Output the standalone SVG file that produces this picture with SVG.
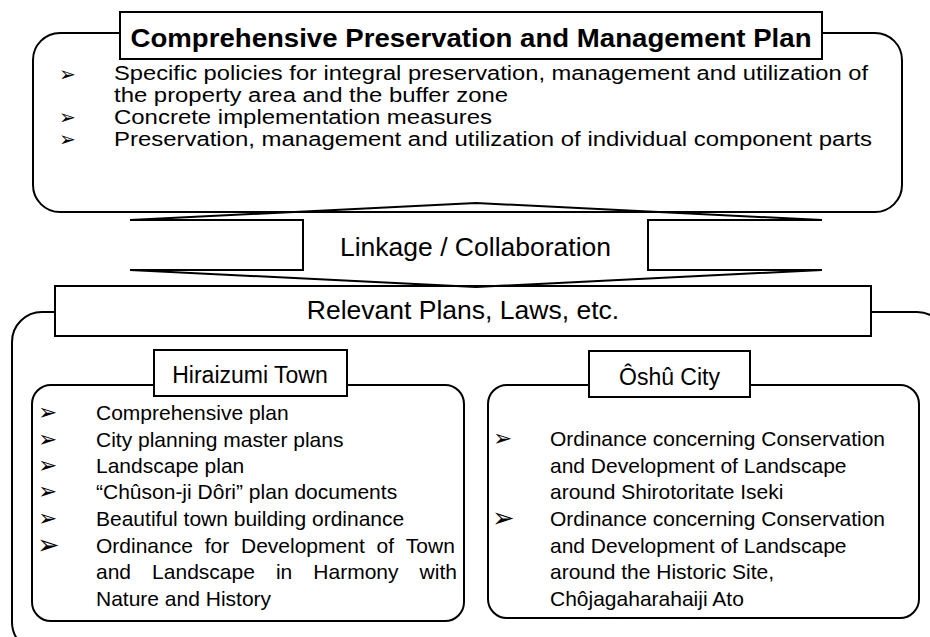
<svg xmlns="http://www.w3.org/2000/svg" width="930" height="637" viewBox="0 0 930 637">
<style>
.box{fill:#fff;stroke:#000;stroke-width:2}
.nofill{fill:none;stroke:#000;stroke-width:2}
.t{font-family:"Liberation Sans",Arial,sans-serif;fill:#000}
.b{font-family:"DejaVu Sans","Liberation Sans",sans-serif;fill:#000;font-size:23px}
.b1{font-family:"DejaVu Sans","Liberation Sans",sans-serif;fill:#000;font-size:20px}
.b2{font-family:"DejaVu Sans","Liberation Sans",sans-serif;fill:#000;font-size:27px}
</style>
<rect width="930" height="637" fill="#fff"/>
<g id="plan">
<rect class="box" x="33" y="33" width="869" height="179" rx="27"/>
<rect class="box" x="120" y="12" width="702" height="47"/>
<text class="t" x="471" y="47" font-size="25" font-weight="bold" text-anchor="middle" textLength="681" lengthAdjust="spacingAndGlyphs">Comprehensive Preservation and Management Plan</text>
<text class="b1" x="59" y="81">➢</text>
<text class="b1" x="59" y="124">➢</text>
<text class="b1" x="59" y="146">➢</text>
<text class="t" font-size="20" x="114" y="80" textLength="754" lengthAdjust="spacingAndGlyphs">Specific policies for integral preservation, management and utilization of</text>
<text class="t" font-size="20" x="114" y="101.5" textLength="394" lengthAdjust="spacingAndGlyphs">the property area and the buffer zone</text>
<text class="t" font-size="20" x="114" y="124" textLength="378" lengthAdjust="spacingAndGlyphs">Concrete implementation measures</text>
<text class="t" font-size="20" x="114" y="146" textLength="758" lengthAdjust="spacingAndGlyphs">Preservation, management and utilization of individual component parts</text>
</g>
<g id="relevant">
<rect class="box" x="12" y="312" width="935" height="340" rx="30"/>
<rect class="box" x="55" y="286" width="816" height="50"/>
<text class="t" x="463" y="319" font-size="26.5" text-anchor="middle">Relevant Plans, Laws, etc.</text>
</g>
<g id="hiraizumi">
<rect class="box" x="32" y="385" width="432" height="236" rx="19"/>
<rect class="box" x="154" y="350" width="193" height="46"/>
<text class="t" x="250" y="383" font-size="23" text-anchor="middle">Hiraizumi Town</text>
<text class="b" x="38" y="420">➢</text>
<text class="b" x="38" y="447">➢</text>
<text class="b" x="38" y="473">➢</text>
<text class="b" x="38" y="499">➢</text>
<text class="b" x="38" y="526">➢</text>
<text class="b2" x="37" y="554">➢</text>
<g class="t" font-size="21">
<text x="96" y="420">Comprehensive plan</text>
<text x="96" y="447">City planning master plans</text>
<text x="96" y="473">Landscape plan</text>
<text x="96" y="499">“Chûson-ji Dôri” plan documents</text>
<text x="96" y="526">Beautiful town building ordinance</text>
<text y="553"><tspan x="96">Ordinance</tspan><tspan x="204.7">for</tspan><tspan x="241">Development</tspan><tspan x="376.5">of</tspan><tspan x="405.8">Town</tspan></text>
<text y="579"><tspan x="96">and</tspan><tspan x="152.1">Landscape</tspan><tspan x="275.9">in</tspan><tspan x="313.3">Harmony</tspan><tspan x="419.6">with</tspan></text>
<text x="96" y="606">Nature and History</text>
</g>
</g>
<g id="oshu">
<rect class="box" x="488" y="385" width="431" height="233" rx="19"/>
<rect class="box" x="589" y="351" width="161" height="46"/>
<text class="t" x="669.5" y="385" font-size="23" text-anchor="middle">Ôshû City</text>
<text class="b" x="493" y="446">➢</text>
<text class="b2" x="492" y="527">➢</text>
<g class="t" font-size="21">
<text x="550" y="446">Ordinance concerning Conservation</text>
<text x="550" y="473">and Development of Landscape</text>
<text x="550" y="499">around Shirotoritate Iseki</text>
<text x="550" y="526">Ordinance concerning Conservation</text>
<text x="550" y="553">and Development of Landscape</text>
<text x="550" y="579">around the Historic Site,</text>
<text x="550" y="606">Chôjagaharahaiji Ato</text>
</g>
</g>
<g id="connectors">
<path class="nofill" d="M130,220 H303 V270 H130"/>
<path class="nofill" d="M822,220 H648 V270 H822"/>
<path class="nofill" d="M130,220 L476,203 L822,220"/>
<path class="nofill" d="M130,270 L476,287 L822,270"/>
<text class="t" x="475.5" y="256" font-size="26.5" text-anchor="middle">Linkage / Collaboration</text>
</g>
</svg>
